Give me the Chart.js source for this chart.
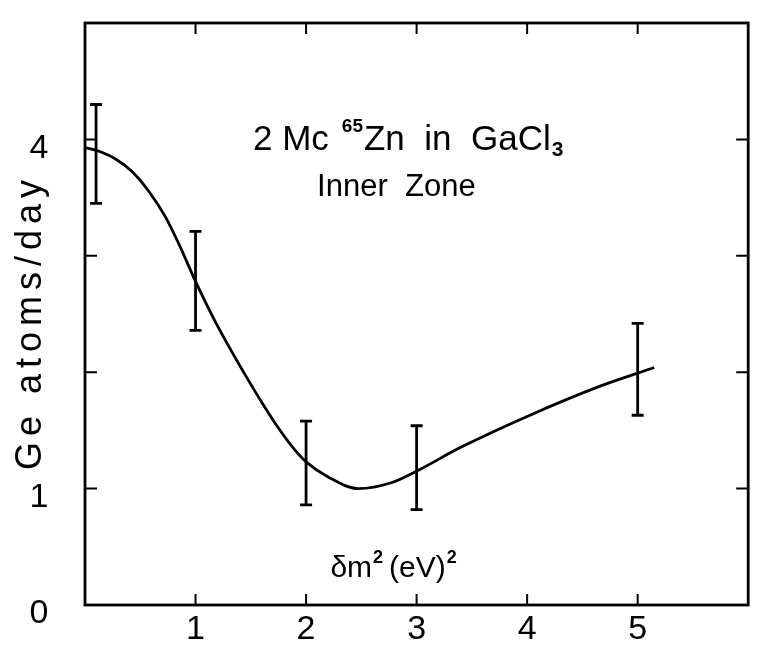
<!DOCTYPE html>
<html>
<head>
<meta charset="utf-8">
<script src="https://cdn.jsdelivr.net/npm/chart.js@4/dist/chart.umd.min.js"></script>
<style>
  body { margin: 0; background: #fff; }
  #wrap { width: 757px; height: 653px; }
</style>
</head>
<body>
<div id="wrap"><canvas id="zincChart"></canvas></div>
<script>
// fitted curve
const curveX = [0, 0.12, 0.28, 0.43, 0.58, 0.73, 0.85, 1.0, 1.17, 1.32, 1.46, 1.6, 1.75, 1.9, 2.0, 2.2, 2.47, 2.77, 3.02, 3.39, 4.0, 4.66, 5.15];
const curveY = [3.93, 3.90, 3.83, 3.72, 3.55, 3.33, 3.10, 2.78, 2.45, 2.19, 1.96, 1.74, 1.52, 1.33, 1.23, 1.10, 1.00, 1.05, 1.16, 1.35, 1.62, 1.88, 2.04];

// measured points with error bars
const barX = [0.1, 1, 2, 3, 5];
const barLow = [3.45, 2.36, 0.86, 0.82, 1.63];
const barHigh = [4.30, 3.21, 1.58, 1.54, 2.42];

// axis ticks and labels
const xTicks = [1, 2, 3, 4, 5];
const yTicks = [1, 2, 3, 4];
const xTickLabels = ['', '1', '2', '3', '4', '5', ''];
const yTickLabels = ['0', '1', '', '', '4', ''];

const font = '"Liberation Sans", Arial, sans-serif';

const datasets = [{
    data: curveX.map((x, i) => ({ x: x, y: curveY[i] })),
    borderColor: '#000',
    borderWidth: 2.8,
    pointRadius: 0,
    cubicInterpolationMode: 'monotone',
    fill: false,
}];

barX.forEach((x, i) => {
    datasets.push({
        data: [{ x: x, y: barLow[i] }, { x: x, y: barHigh[i] }],
        borderColor: '#000',
        borderWidth: 2.8,
        pointStyle: 'line',
        pointRadius: 6,
        pointBorderWidth: 2.8,
        pointBorderColor: '#000',
        fill: false,
    });
});

// draws a run of [text, size, rise] pieces from px
function drawPieces(ctx, pieces, px, py) {
    pieces.forEach(([t, size, rise, gap]) => {
        ctx.font = (size < 24 ? 'bold ' : '') + size + 'px ' + font;
        ctx.fillText(t, px, py - rise);
        px += ctx.measureText(t).width + (gap || 0);
    });
}

// frame, inward ticks, tick labels and the texts
const decorations = {
    id: 'decorations',
    afterDraw(chart) {
        const { ctx, chartArea, scales } = chart;
        const { left, right, top, bottom } = chartArea;
        const { x, y } = scales;
        ctx.save();
        ctx.strokeStyle = '#000';
        ctx.lineWidth = 2.8;
        ctx.strokeRect(left, top, right - left, bottom - top);

        ctx.lineWidth = 2;
        ctx.beginPath();
        xTicks.forEach(v => {
            const px = x.getPixelForValue(v);
            ctx.moveTo(px, bottom); ctx.lineTo(px, bottom - 11);
            ctx.moveTo(px, top); ctx.lineTo(px, top + 11);
        });
        yTicks.forEach(v => {
            const py = y.getPixelForValue(v);
            ctx.moveTo(left, py); ctx.lineTo(left + 12, py);
            ctx.moveTo(right, py); ctx.lineTo(right - 12, py);
        });
        ctx.stroke();

        ctx.fillStyle = '#000';
        ctx.font = '34px ' + font;
        ctx.textAlign = 'center';
        ctx.textBaseline = 'middle';
        xTickLabels.forEach((t, v) => {
            if (t) ctx.fillText(t, x.getPixelForValue(v), bottom + 25);
        });
        yTickLabels.forEach((t, v) => {
            if (t) ctx.fillText(t, 39, y.getPixelForValue(v) + 9);
        });

        ctx.textBaseline = 'alphabetic';
        ctx.textAlign = 'left';

        // 2 Mc 65Zn in GaCl3
        drawPieces(ctx, [
            ['2 Mc', 35, 0, 13],
            ['65', 19, 18, 1],
            ['Zn  in  GaCl', 35, 0, 1],
            ['3', 21, -6, 0],
        ], x.getPixelForValue(1.52), y.getPixelForValue(3.91));

        // Inner Zone
        ctx.font = '31px ' + font;
        ctx.fillText('Inner  Zone', x.getPixelForValue(2.1), y.getPixelForValue(3.51));

        // x axis title, inside the frame
        drawPieces(ctx, [
            ['\u03b4m', 30, 0, 1],
            ['2', 18, 14, 6],
            ['(eV)', 30, 0, 1],
            ['2', 18, 14, 0],
        ], x.getPixelForValue(2.22), y.getPixelForValue(0.24));

        // y axis title
        ctx.translate(31, 322);
        ctx.rotate(-Math.PI / 2);
        ctx.textAlign = 'center';
        ctx.textBaseline = 'middle';
        ctx.font = '36px ' + font;
        ctx.letterSpacing = '6px';
        ctx.fillText('Ge atoms/day', 0, 0);
        ctx.restore();
    }
};

const zincConfig = {
    type: 'line',
    data: { datasets: datasets },
    options: {
        responsive: true,
        maintainAspectRatio: false,
        animation: false,
        layout: { padding: { top: 23, right: -2, left: 0, bottom: 0 } },
        plugins: {
            legend: { display: false },
            tooltip: { enabled: false },
        },
        scales: {
            x: {
                type: 'linear',
                min: 0,
                max: 6,
                grid: { display: false, drawTicks: false },
                border: { display: false },
                ticks: { display: false, stepSize: 1 },
                afterFit: (s) => { s.height = 48; },
            },
            y: {
                type: 'linear',
                min: 0,
                max: 5,
                grid: { display: false, drawTicks: false },
                border: { display: false },
                ticks: { display: false, stepSize: 1 },
                afterFit: (s) => { s.width = 85; },
            },
        },
    },
    plugins: [decorations],
};

const zincLineChart = new Chart(document.getElementById('zincChart'), zincConfig);
</script>
</body>
</html>
